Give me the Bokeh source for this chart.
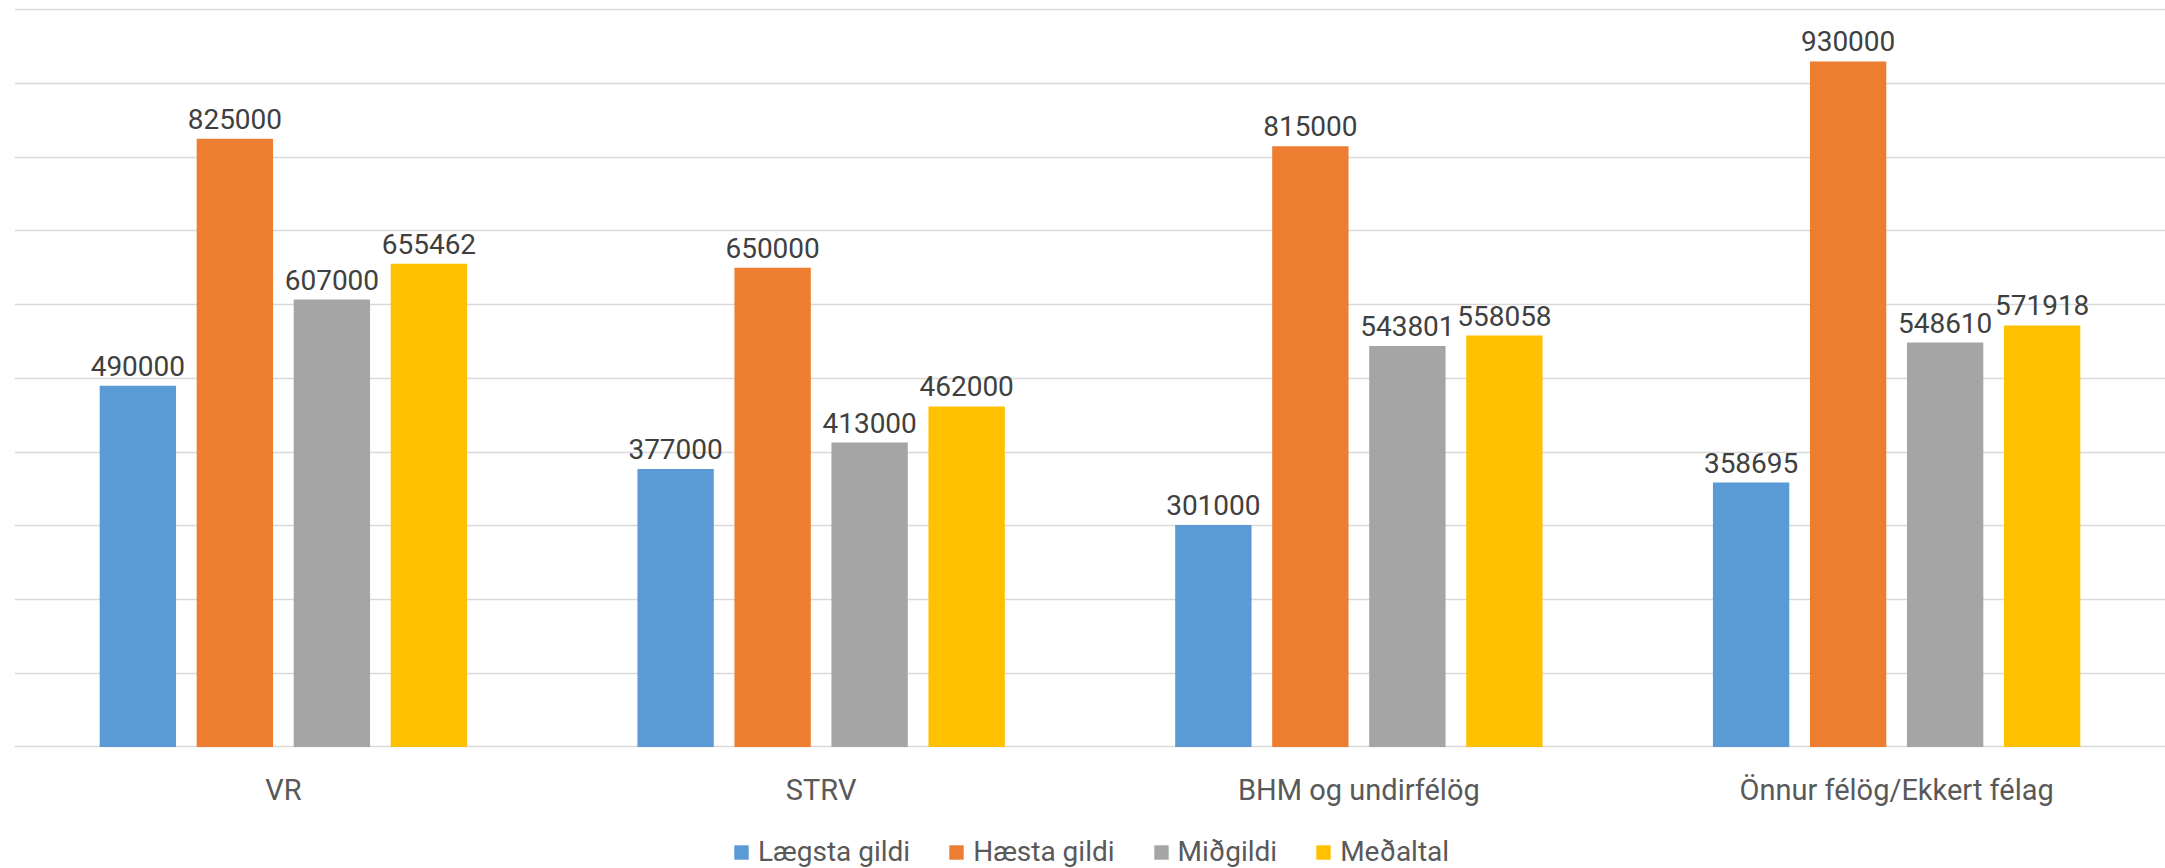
from bokeh.plotting import figure
from bokeh.models import (ColumnDataSource, FactorRange, Range1d, Legend, LegendItem,
                          SingleIntervalTicker)
from bokeh.transform import dodge
from bokeh.core.properties import value
from bokeh.embed import file_html
from bokeh.resources import INLINE

categories = ["VR", "STRV", "BHM og undirfélög", "Önnur félög/Ekkert félag"]
series_names = ["Lægsta gildi", "Hæsta gildi", "Miðgildi", "Meðaltal"]
laegsta_gildi = [490000, 377000, 301000, 358695]
haesta_gildi = [825000, 650000, 815000, 930000]
midgildi = [607000, 413000, 543801, 548610]
medaltal = [655462, 462000, 558058, 571918]

series_values = [laegsta_gildi, haesta_gildi, midgildi, medaltal]
colors = ["#5B9BD5", "#ED7D31", "#A5A5A5", "#FFC000"]
offsets = [-0.2706, -0.0902, 0.0902, 0.2706]
FONT = "Roboto"

p = figure(
    width=2165, height=868,
    x_range=FactorRange(factors=categories, range_padding=0),
    y_range=Range1d(-165000, 1001892),
    output_backend="svg", toolbar_location=None,
    x_axis_location=None, y_axis_location=None,
    min_border_left=14, min_border_right=0, min_border_top=8, min_border_bottom=0,
)
p.outline_line_color = None
p.background_fill_color = "white"
p.border_fill_color = "white"

p.xgrid.grid_line_color = None
p.ygrid.ticker = SingleIntervalTicker(interval=100000, num_minor_ticks=0)
p.ygrid.bounds = (0, 1000000)
p.ygrid.grid_line_color = "#D9D9D9"
p.ygrid.grid_line_width = 1.5

items = []
for name, vals, col, off in zip(series_names, series_values, colors, offsets):
    src = ColumnDataSource(dict(cat=categories, val=vals, lbl=[str(v) for v in vals]))
    r = p.vbar(x=dodge("cat", off, range=p.x_range), top="val", width=0.142, bottom=0,
               source=src, fill_color=col, line_color=None)
    p.text(x=dodge("cat", off, range=p.x_range), y="val", text="lbl", source=src,
           text_align="center", text_baseline="alphabetic", y_offset=-20,
           text_font=value(FONT), text_font_size="28px", text_color="#404040")
    items.append(LegendItem(label=name, renderers=[r]))

# category labels under the baseline
cat_src = ColumnDataSource(dict(cat=categories, y=[0] * len(categories)))
p.text(x="cat", y="y", text="cat", source=cat_src, text_align="center",
       text_baseline="middle", y_offset=43,
       text_font=value(FONT), text_font_size="29px", text_color="#595959")

legend = Legend(items=items, orientation="horizontal", location=(718, 0),
                border_line_color=None, background_fill_alpha=0,
                padding=0, margin=0, spacing=37, label_standoff=8,
                glyph_width=18, glyph_height=18,
                label_text_font=FONT, label_text_font_size="28px",
                label_text_color="#595959")
p.add_layout(legend, "center")

open("out.html", "w").write(file_html(p, INLINE))
